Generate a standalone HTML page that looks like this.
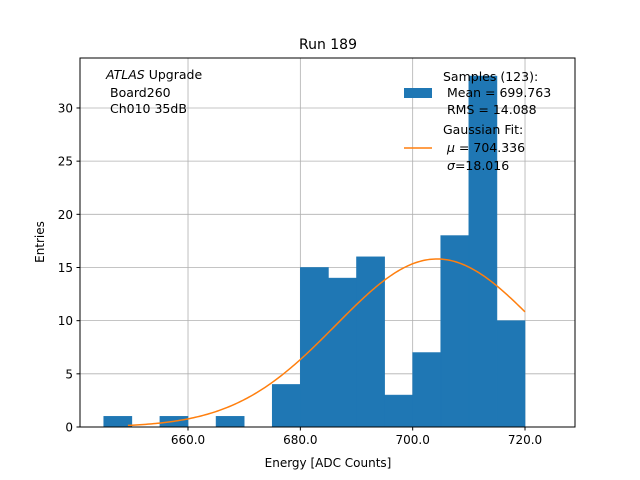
<!DOCTYPE html>
<html><head><meta charset="utf-8"><style>
body{margin:0;background:#fff;}
svg{display:block;font-family:"DejaVu Sans","Liberation Sans",sans-serif;}
</style></head><body>
<svg id="chart" width="640" height="480">
<rect width="640" height="480" fill="#fff"/>
<g id="grid"></g>
<g id="bars"></g>
<g id="curve"></g>
<rect x="80" y="58" width="495" height="369" fill="none" stroke="#000" stroke-width="1"/>
<g id="ticks"></g>
<text x="328" y="49" text-anchor="middle" font-size="14">Run 189</text>
<text x="328" y="467" text-anchor="middle" font-size="12">Energy [ADC Counts]</text>
<text transform="translate(44,242) rotate(-90)" text-anchor="middle" font-size="12">Entries</text>
<g font-size="12.5">
<text x="106" y="79"><tspan font-style="italic">ATLAS</tspan> Upgrade</text>
<text x="110" y="97">Board260</text>
<text x="110" y="113">Ch010 35dB</text>
</g>
<g font-size="12.5">
<rect x="404" y="88" width="28" height="10" fill="#1f77b4"/>
<text x="443" y="81">Samples (123):</text>
<text x="447" y="97">Mean = 699.763</text>
<text x="447" y="114">RMS = 14.088</text>
<line x1="404" y1="148" x2="432" y2="148" stroke="#ff7f0e" stroke-width="1.5"/>
<text x="443" y="134">Gaussian Fit:</text>
<text x="447" y="152"><tspan font-style="italic">μ</tspan> = 704.336</text>
<text x="447" y="170"><tspan font-style="italic">σ</tspan>=18.016</text>
</g>
</svg>
<script>
const binStarts=[645,650,655,660,665,670,675,680,685,690,695,700,705,710,715];
const counts=[1,0,1,0,1,0,4,15,14,16,3,7,18,33,10];
const binWidth=5;
const xTicks=[660,680,700,720];
const xTickLabels=["660.0","680.0","700.0","720.0"];
const yTicks=[0,5,10,15,20,25,30];
const fitMu=[704.336];
const fitSigma=[18.016];
const fitAmp=[15.8];
const fitRange=[649.3,720];
const NS="http://www.w3.org/2000/svg";
const L=80,R=575,T=58,B=427,xmin=640.77,xmax=728.9,ymin=0,ymax=34.7;
const X=v=>L+(v-xmin)/(xmax-xmin)*(R-L);
const Y=v=>B-(v-ymin)/(ymax-ymin)*(B-T);
function mk(tag,attrs,parent){const e=document.createElementNS(NS,tag);for(const k in attrs)e.setAttribute(k,attrs[k]);document.getElementById(parent).appendChild(e);return e;}
xTicks.forEach((t,i)=>{
 const g=mk('line',{x1:X(t),x2:X(t),y1:T,y2:B,stroke:'#b0b0b0','stroke-width':0.8},'grid');
 
 
 const tk=mk('line',{x1:X(t),x2:X(t),y1:B,y2:B+3.5,stroke:'#000'},'ticks');
 
 
 const tx=mk('text',{x:X(t),y:B+17,'text-anchor':'middle','font-size':12},'ticks');
 tx.textContent=xTickLabels[i];
 
 
});
yTicks.forEach(t=>{
 const g=mk('line',{x1:L,x2:R,y1:Y(t),y2:Y(t),stroke:'#b0b0b0','stroke-width':0.8},'grid');
 
 
 const tk=mk('line',{x1:L-3.5,x2:L,y1:Y(t),y2:Y(t),stroke:'#000'},'ticks');
 
 
 const tx=mk('text',{x:L-7,y:Y(t)+4.5,'text-anchor':'end','font-size':12},'ticks');
 tx.textContent=String(t);
 
 
});
binStarts.forEach((s,i)=>{
 if(counts[i]<=0)return;
 const r=mk('rect',{x:X(s),y:Y(counts[i]),width:X(s+binWidth)-X(s),height:Y(0)-Y(counts[i]),fill:'#1f77b4',stroke:'#1f77b4','stroke-width':0.6},'bars');
 
 
});
let d='';
for(let k=0;k<=200;k++){const v=fitRange[0]+(fitRange[1]-fitRange[0])*k/200;const y=fitAmp[0]*Math.exp(-0.5*((v-fitMu[0])/fitSigma[0])**2);d+=(k?'L':'M')+X(v).toFixed(2)+','+Y(y).toFixed(2);}
const p=mk('path',{d:d,fill:'none',stroke:'#ff7f0e','stroke-width':1.5},'curve');


</script>
</body></html>
